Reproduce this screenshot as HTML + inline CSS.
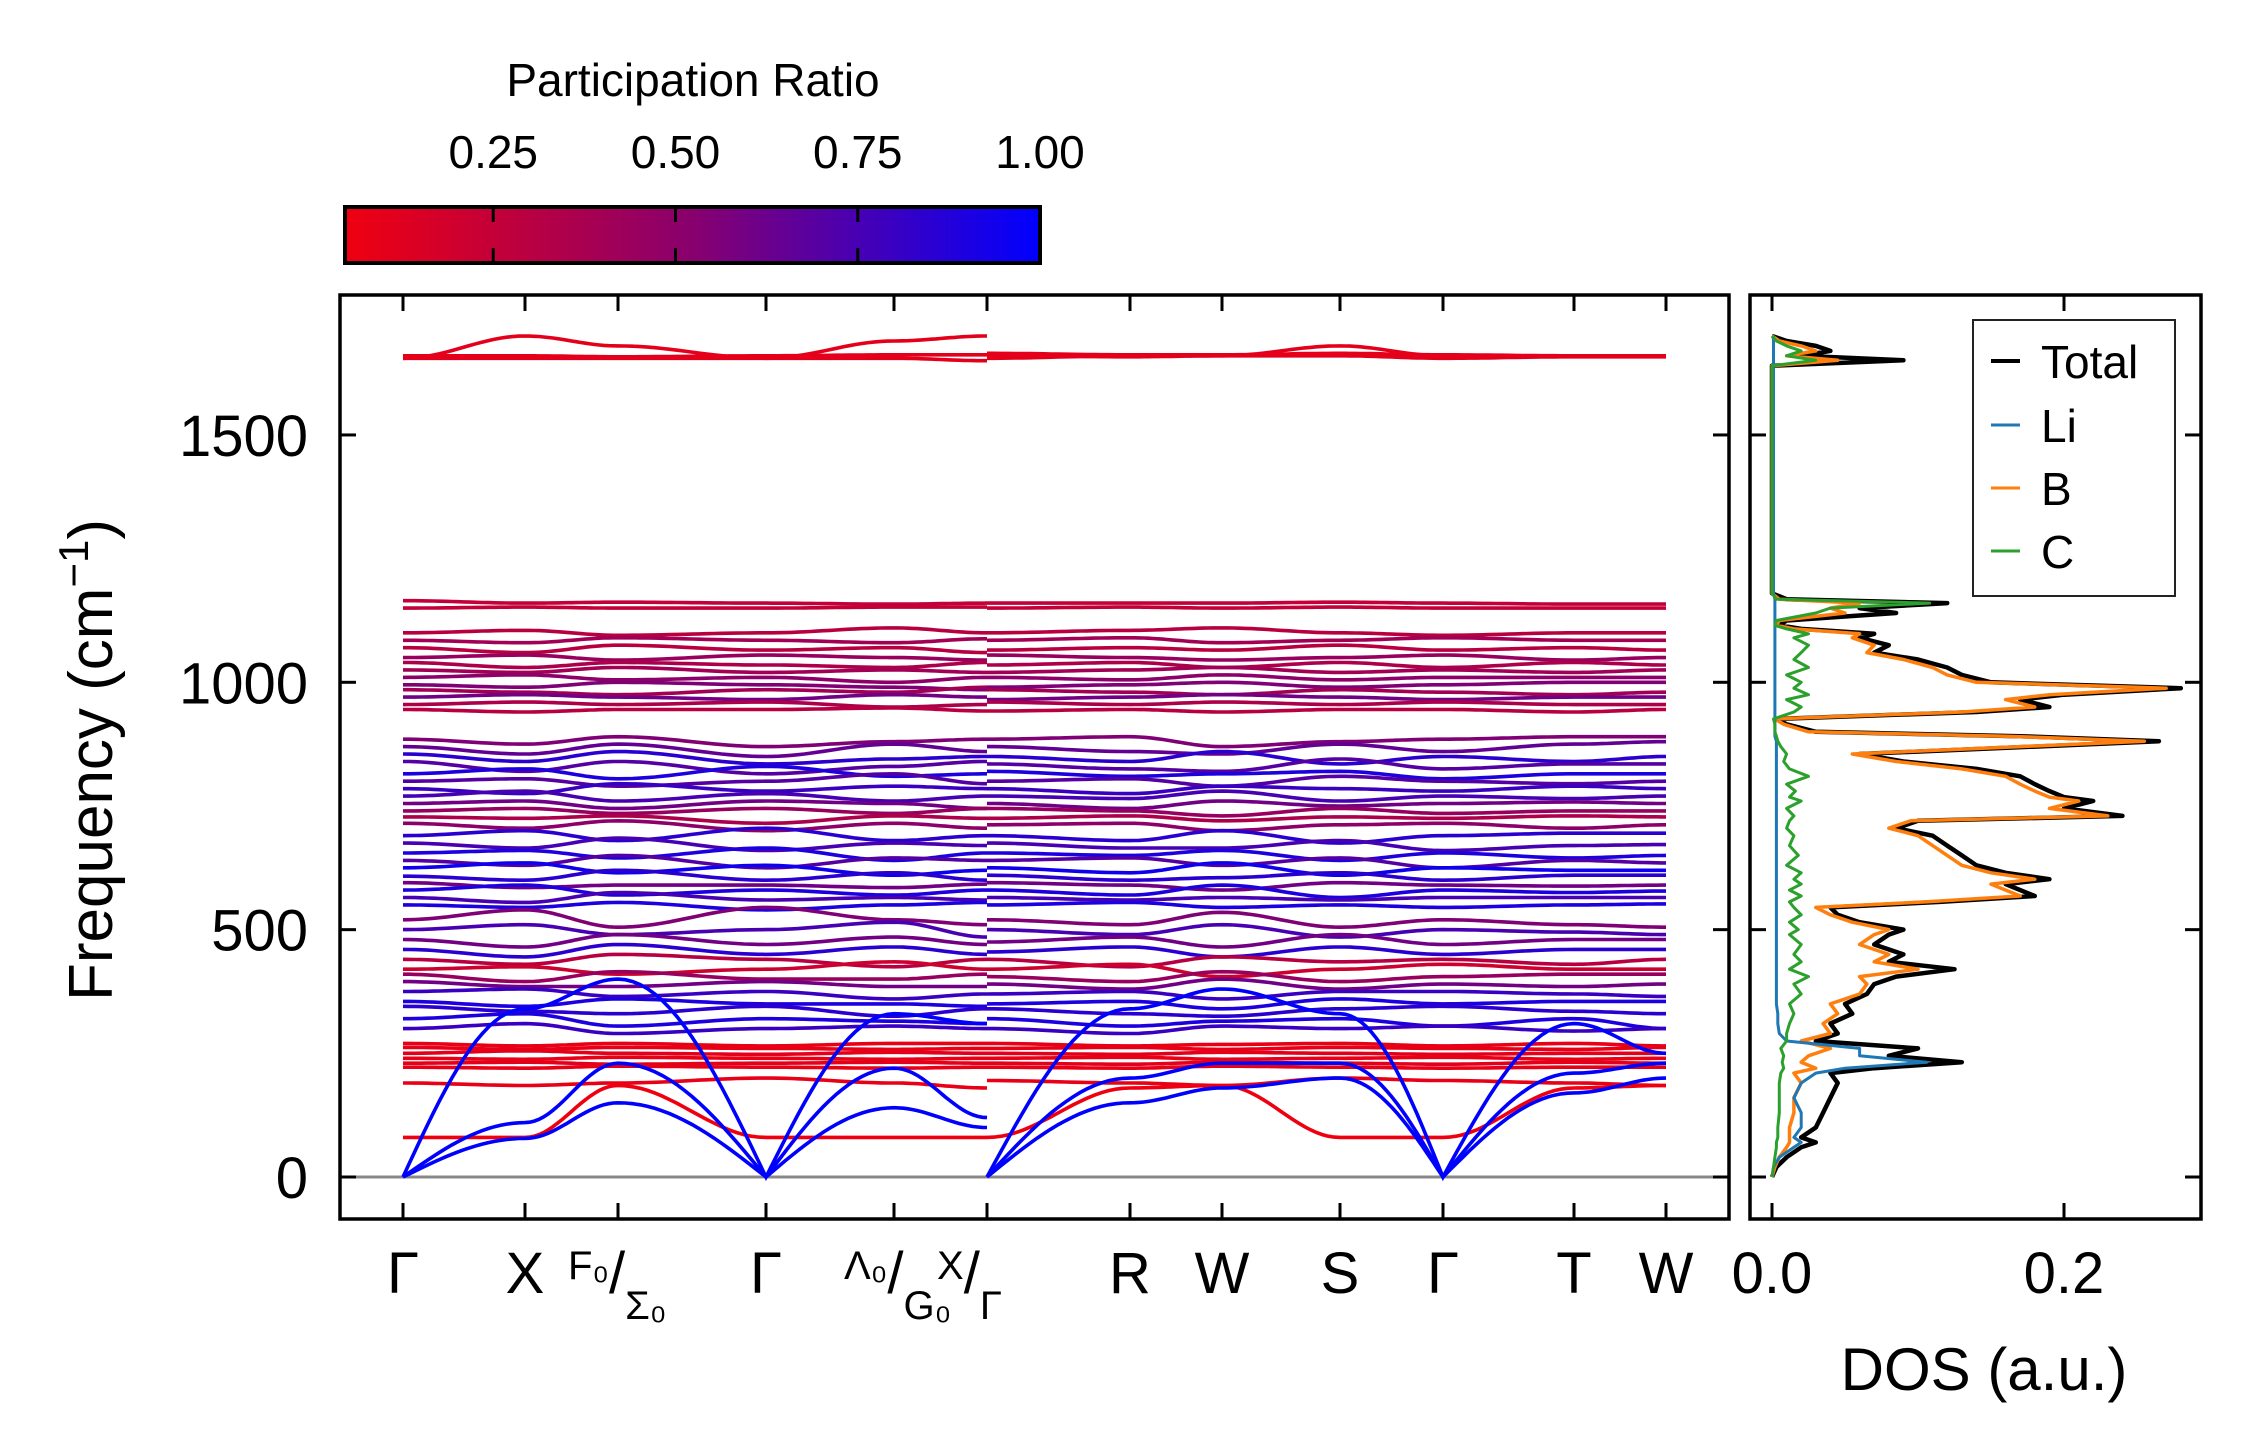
<!DOCTYPE html>
<html><head><meta charset="utf-8">
<style>
html,body{margin:0;padding:0;background:#fff;}
svg{display:block;font-family:"Liberation Sans","DejaVu Sans",sans-serif;}
</style></head>
<body>
<svg id="chart" width="2259" height="1455" viewBox="0 0 2259 1455" xmlns="http://www.w3.org/2000/svg">
<defs>
<linearGradient id="cbgrad" x1="0" x2="1" y1="0" y2="0">
<stop offset="0" stop-color="#f00010"/>
<stop offset="0.5" stop-color="#88006e"/>
<stop offset="1" stop-color="#0000ff"/>
</linearGradient>
<clipPath id="mainclip"><rect x="340" y="295" width="1389" height="924"/></clipPath>
<clipPath id="dosclip"><rect x="1750" y="295" width="451" height="924"/></clipPath>
</defs>
<g id="colorbar">
<text x="693" y="96" font-size="46" text-anchor="middle">Participation Ratio</text>
<rect x="345" y="207" width="695" height="56" fill="url(#cbgrad)" stroke="#000" stroke-width="4"/>
<g id="cbticks"></g>
</g>
<g id="main">
<line x1="340" x2="1729" y1="1177" y2="1177" stroke="#888" stroke-width="3"/>
<g id="bands" clip-path="url(#mainclip)"></g>
<rect x="340" y="295" width="1389" height="924" fill="none" stroke="#000" stroke-width="3.5"/>
<g id="mainticks"></g>
<text transform="translate(112,760) rotate(-90)" font-size="62" text-anchor="middle">Frequency (cm<tspan dy="-24" font-size="42">−1</tspan><tspan dy="24">)</tspan></text>
</g>
<g id="dos">
<g id="doslines" clip-path="url(#dosclip)"></g>
<rect x="1750" y="295" width="451" height="924" fill="none" stroke="#000" stroke-width="3.5"/>
<g id="dosticks"></g>
<text x="1984" y="1390" font-size="60" text-anchor="middle">DOS (a.u.)</text>
<g>
<rect x="1973" y="320" width="202" height="276" fill="#fff" stroke="#222" stroke-width="2"/>
<line x1="1991" x2="2020" y1="361" y2="361" stroke="#000" stroke-width="4"/>
<text x="2041" y="378" font-size="46">Total</text>
<line x1="1991" x2="2020" y1="425" y2="425" stroke="#1f77b4" stroke-width="3"/>
<text x="2041" y="442" font-size="46">Li</text>
<line x1="1991" x2="2020" y1="488" y2="488" stroke="#ff7f0e" stroke-width="3"/>
<text x="2041" y="505" font-size="46">B</text>
<line x1="1991" x2="2020" y1="551" y2="551" stroke="#2ca02c" stroke-width="3"/>
<text x="2041" y="568" font-size="46">C</text>
</g>
</g>
</svg>
<script>
const kDist = [0,122,215,363,491,584, 584,727,819,937,1040,1171,1263];
const kTickX = [0,122,215,363,491,584,727,819,937,1040,1171,1263];
const freqTicks = [0,500,1000,1500];
const cbTicks = [0.25,0.50,0.75,1.00];
const cbTickLabels = ["0.25","0.50","0.75","1.00"];
const dosTicks = [0.0,0.2];
const dosTickLabels = ["0.0","0.2"];

const bandFreqs = [
[1655,1700,1680,1655,1690,1700, 1655,1660,1660,1680,1660,1660,1660],
[1655,1655,1655,1655,1655,1650, 1660,1658,1660,1660,1655,1658,1658],
[1660,1660,1658,1660,1662,1662, 1665,1662,1662,1665,1662,1660,1660],
[1165,1160,1162,1160,1158,1160, 1160,1160,1160,1162,1160,1158,1158],
[1150,1152,1150,1150,1152,1152, 1150,1152,1150,1152,1150,1150,1150],
[1100,1105,1095,1100,1110,1100, 1100,1105,1110,1100,1095,1100,1100],
[1085,1080,1090,1085,1080,1088, 1085,1090,1080,1085,1090,1085,1085],
[1070,1060,1075,1065,1070,1060, 1065,1070,1065,1075,1065,1070,1065],
[1050,1055,1045,1055,1050,1045, 1055,1050,1045,1050,1055,1045,1050],
[1040,1030,1040,1035,1030,1040, 1035,1040,1030,1040,1030,1040,1035],
[1025,1020,1030,1020,1025,1020, 1020,1025,1030,1020,1025,1020,1025],
[1010,1015,1005,1010,1000,1010, 1010,1005,1015,1005,1010,1010,1010],
[995,990,1000,995,990,985, 990,995,1000,990,995,1000,1000],
[985,980,975,985,980,990, 985,980,975,985,980,975,980],
[970,975,970,965,975,970, 965,970,975,970,965,970,970],
[955,960,955,960,950,955, 960,955,960,955,960,955,955],
[945,940,945,945,948,942, 942,945,940,945,945,940,945],
[885,875,890,870,880,885, 885,890,870,880,885,890,890],
[870,855,875,850,875,860, 870,860,855,875,860,875,880],
[855,840,860,835,845,850, 850,840,860,835,850,840,850],
[840,820,840,815,830,840, 835,825,820,845,825,835,835],
[815,825,805,830,810,815, 820,810,815,820,805,815,815],
[800,805,790,800,815,795, 800,805,790,810,800,795,800],
[785,775,795,780,790,785, 785,775,790,785,780,790,785],
[770,780,760,775,760,770, 770,765,780,760,770,765,770],
[755,760,745,760,755,745, 755,745,760,750,755,758,755],
[740,745,735,745,735,745, 745,740,730,745,735,740,740],
[728,725,730,715,730,725, 725,730,720,728,725,730,728],
[715,705,720,700,715,705, 712,715,700,712,715,705,712],
[690,700,680,705,680,690, 690,680,700,675,690,695,695],
[675,665,685,660,675,670, 675,665,665,680,660,670,672],
[655,660,645,665,640,655, 655,650,660,640,655,645,650],
[640,630,650,625,645,640, 640,645,630,645,625,640,635],
[625,635,615,630,610,620, 625,615,635,610,625,620,620],
[608,600,620,600,615,600, 610,600,605,615,600,610,610],
[595,585,590,590,585,592, 595,590,580,595,590,588,590],
[580,590,570,580,570,580, 580,570,590,565,580,575,578],
[565,555,575,560,565,560, 565,560,565,560,565,565,565],
[550,545,555,540,550,555, 550,555,545,550,545,550,552],
[520,540,505,545,520,510, 520,510,535,505,520,510,505],
[500,510,490,500,515,485, 500,490,510,485,500,495,490],
[480,465,490,470,485,470, 475,485,465,490,470,480,480],
[460,445,470,450,465,450, 455,465,445,465,450,460,460],
[440,430,450,440,425,440, 440,425,445,435,440,430,440],
[420,425,410,420,435,420, 420,430,405,420,430,420,420],
[410,395,415,400,400,410, 405,395,415,395,405,410,410],
[395,385,385,395,385,385, 390,380,400,380,390,385,390],
[375,380,365,375,360,370, 370,375,360,375,375,370,365],
[355,345,360,350,350,345, 350,355,340,360,350,355,355],
[345,335,330,345,325,340, 340,330,325,340,345,335,330],
[320,330,305,320,315,310, 320,305,315,320,305,320,300],
[300,310,290,300,305,300, 300,290,305,300,305,295,300],
[270,265,270,265,270,270, 270,265,268,270,265,270,265],
[262,258,262,260,258,260, 260,262,258,262,260,258,262],
[250,255,250,248,252,250, 250,248,252,250,248,250,250],
[240,238,242,240,238,240, 240,242,238,240,242,238,240],
[230,232,228,230,232,230, 230,228,232,230,228,232,230],
[222,220,224,222,220,222, 222,220,224,222,220,222,222],
[190,185,190,200,190,180, 195,190,185,200,195,190,185],
[80,80,185,80,80,80, 80,180,185,80,80,180,185],
[0,78,150,0,140,100, 0,150,180,200,0,170,200],
[0,110,230,0,220,120, 0,200,230,230,0,210,230],
[0,340,400,0,330,310, 0,340,380,330,0,310,250]
];
const bandPR = [0.1,0.1,0.1,0.25,0.25,0.3,0.4,0.3,0.45,0.35,0.4,0.5,0.55,0.4,0.6,0.35,0.3,
0.55,0.65,0.85,0.7,0.9,0.7,0.8,0.75,0.6,0.45,0.35,0.5,
0.85,0.75,0.9,0.7,0.95,0.85,0.6,0.9,0.75,0.9,
0.55,0.75,0.6,0.85,0.3,0.2,0.45,0.6,0.8,0.9,0.85,0.9,0.8,
0.08,0.08,0.1,0.08,0.1,0.08,0.08,0.05,1.0,1.0,1.0];

const dosFreq = [0,20,40,60,70,80,100,130,160,190,
210,220,232,245,260,275,290,310,330,350,
370,390,405,420,435,450,470,490,500,515,
530,545,556,568,580,592,602,615,630,650,
670,690,705,720,730,745,760,768,780,794,
810,825,840,855,870,881,891,900,915,926,
940,950,965,975,988,1000,1015,1030,1046,1060,
1075,1090,1098,1108,1115,1125,1140,1150,1160,1168,
1180,1640,1651,1660,1670,1680,1690,1700];
const dosTotal = [0,0.003,0.01,0.02,0.03,0.02,0.03,0.035,0.04,0.045,
0.04,0.07,0.13,0.08,0.1,0.03,0.045,0.04,0.055,0.05,
0.065,0.07,0.085,0.125,0.08,0.09,0.07,0.08,0.09,0.06,
0.045,0.04,0.115,0.18,0.17,0.16,0.19,0.16,0.14,0.13,
0.12,0.11,0.085,0.1,0.24,0.2,0.22,0.2,0.19,0.18,
0.17,0.14,0.09,0.06,0.18,0.265,0.17,0.03,0.01,0.003,
0.14,0.19,0.17,0.2,0.28,0.15,0.13,0.12,0.1,0.07,
0.08,0.06,0.07,0.02,0.005,0.01,0.085,0.06,0.12,0.01,
0,0,0.09,0.02,0.04,0.03,0.01,0];
const dosB = [0,0.002,0.005,0.01,0.012,0.012,0.012,0.015,0.015,0.02,
0.015,0.03,0.02,0.025,0.04,0.02,0.04,0.035,0.045,0.04,
0.06,0.065,0.06,0.1,0.07,0.08,0.06,0.07,0.08,0.055,
0.04,0.03,0.105,0.17,0.16,0.15,0.18,0.15,0.13,0.12,
0.11,0.1,0.08,0.095,0.23,0.19,0.21,0.19,0.18,0.17,
0.16,0.13,0.085,0.055,0.17,0.255,0.16,0.025,0.008,0.002,
0.13,0.18,0.16,0.19,0.27,0.14,0.12,0.11,0.09,0.065,
0.07,0.055,0.06,0.015,0.003,0.005,0.05,0.04,0.06,0.005,
0,0,0.045,0.01,0.03,0.02,0.005,0];
const dosC = [0,0.001,0.002,0.003,0.003,0.004,0.004,0.005,0.005,0.005,
0.006,0.008,0.007,0.008,0.006,0.01,0.01,0.012,0.015,0.012,
0.02,0.015,0.025,0.012,0.02,0.015,0.02,0.012,0.018,0.012,
0.02,0.015,0.012,0.02,0.012,0.02,0.015,0.02,0.01,0.018,
0.012,0.015,0.01,0.012,0.015,0.01,0.02,0.012,0.016,0.01,
0.025,0.012,0.008,0.01,0.006,0.004,0.003,0.002,0.002,0.001,
0.015,0.02,0.01,0.025,0.015,0.02,0.01,0.025,0.015,0.02,
0.025,0.015,0.025,0.01,0.002,0.003,0.03,0.04,0.108,0.003,
0,0,0.03,0.01,0.02,0.01,0.003,0];
const dosLi = [0,0.001,0.005,0.015,0.02,0.015,0.02,0.02,0.015,0.02,
0.03,0.05,0.106,0.06,0.06,0.01,0.005,0.004,0.004,0.003,
0.003,0.003,0.003,0.003,0.003,0.003,0.003,0.003,0.003,0.003,
0.003,0.003,0.003,0.003,0.003,0.003,0.003,0.003,0.003,0.003,
0.003,0.003,0.003,0.003,0.003,0.003,0.003,0.003,0.003,0.003,
0.003,0.003,0.003,0.003,0.003,0.003,0.002,0.002,0.002,0.002,
0.002,0.002,0.002,0.002,0.002,0.002,0.002,0.002,0.002,0.002,
0.002,0.002,0.002,0.002,0.002,0.002,0.002,0.002,0.002,0.002,
0.001,0.001,0.001,0.001,0.001,0.001,0.001,0.001];

const NS = "http://www.w3.org/2000/svg";
const yF = f => 1177 - f * 0.4947;
const xK = d => 403 + d * (1666 - 403) / 1263;
const xD = v => 1772 + v * 1460;
const xCB = v => 311 + v * (1040 - 311);
function mk(tag, attrs, parent){
  const e = document.createElementNS(NS, tag);
  for (const k in attrs) e.setAttribute(k, attrs[k]);
  parent.appendChild(e);
  return e;
}
function prColor(p){
  const t = Math.max(0, Math.min(1, (p - 0.047) / (1 - 0.047)));
  let r,g,b;
  if (t < 0.5){ const u=t/0.5; r=240+(136-240)*u; g=0; b=16+(110-16)*u; }
  else { const u=(t-0.5)/0.5; r=136*(1-u); g=0; b=110+(255-110)*u; }
  return `rgb(${r|0},${g|0},${b|0})`;
}

const cbt = document.getElementById('cbticks');
cbTicks.forEach((v,i)=>{
  const x = xCB(v);
  if (v < 1){
    const t1 = mk('line',{x1:x,x2:x,y1:207,y2:222,stroke:'#000','stroke-width':3},cbt);
    
    
    const t2 = mk('line',{x1:x,x2:x,y1:248,y2:263,stroke:'#000','stroke-width':3},cbt);
    
    
  }
  const tx = mk('text',{x:x,y:168,'font-size':46,'text-anchor':'middle'},cbt);
  tx.textContent = cbTickLabels[i];
  
  
});

const bg = document.getElementById('bands');
function segPath(vals, ks){
  let d = '';
  for (let i=0;i<vals.length-1;i++){
    const x0=xK(ks[i]), x1=xK(ks[i+1]);
    const n = 20;
    for (let j=(i===0?0:1); j<=n; j++){
      const s=j/n;
      let e;
      if (vals[i]===0) e = Math.sin(Math.PI/2*s);
      else if (vals[i+1]===0) e = 1-Math.cos(Math.PI/2*s);
      else e=(1-Math.cos(Math.PI*s))/2;
      const f = vals[i] + (vals[i+1]-vals[i])*e;
      const x = x0 + (x1-x0)*s;
      d += (d===''?'M':'L') + x.toFixed(1) + ',' + yF(f).toFixed(1);
    }
  }
  return d;
}
bandFreqs.forEach((b,bi)=>{
  const col = prColor(bandPR[bi]);
  const p1 = mk('path',{d:segPath(b.slice(0,6),kDist.slice(0,6)),fill:'none',stroke:col,'stroke-width':3.6},bg);
  
  
  const p2 = mk('path',{d:segPath(b.slice(6),kDist.slice(6)),fill:'none',stroke:col,'stroke-width':3.6},bg);
  
  
});

const mt = document.getElementById('mainticks');
freqTicks.forEach(f=>{
  const y=yF(f);
  const a=mk('line',{x1:340,x2:356,y1:y,y2:y,stroke:'#000','stroke-width':3},mt);
  
  
  const b=mk('line',{x1:1713,x2:1729,y1:y,y2:y,stroke:'#000','stroke-width':3},mt);
  
  
  const c=mk('line',{x1:1750,x2:1766,y1:y,y2:y,stroke:'#000','stroke-width':3},mt);
  
  
  const d=mk('line',{x1:2185,x2:2201,y1:y,y2:y,stroke:'#000','stroke-width':3},mt);
  
  
  const t=mk('text',{x:308,y:y+21,'font-size':58,'text-anchor':'end'},mt);
  t.textContent=String(f);
  
  
});
kTickX.forEach(k=>{
  const x=xK(k);
  const a=mk('line',{x1:x,x2:x,y1:1203,y2:1219,stroke:'#000','stroke-width':3},mt);
  
  
  const b=mk('line',{x1:x,x2:x,y1:295,y2:311,stroke:'#000','stroke-width':3},mt);
  
  
});
function simpleLabel(x, txt){
  const t=mk('text',{x:x,y:1293,'font-size':58,'text-anchor':'middle'},mt);
  t.textContent=txt;
  
  
}
simpleLabel(xK(0),'Γ'); simpleLabel(xK(122),'X'); simpleLabel(xK(363),'Γ');
simpleLabel(xK(727),'R'); simpleLabel(xK(819),'W'); simpleLabel(xK(937),'S');
simpleLabel(xK(1040),'Γ'); simpleLabel(xK(1171),'T'); simpleLabel(xK(1263),'W');
function fracLabel(x, top, bot){
  const g=mk('text',{x:x-50,y:1293,'font-size':40},mt);
  
  
  g.innerHTML = `<tspan dy="-14">${top}</tspan><tspan font-size="58" dy="14">/</tspan><tspan dy="26">${bot}</tspan>`;
}
fracLabel(xK(215),'F₀','Σ₀');
fracLabel(xK(491),'Λ₀','G₀');
fracLabel(xK(584),'X','Γ');

const dl = document.getElementById('doslines');
function dosPath(arr){
  return arr.map((v,i)=>(i?'L':'M')+xD(v).toFixed(1)+','+yF(dosFreq[i]).toFixed(1)).join('');
}
const series = [[dosTotal,'#000',4.5,'dos-total-line'],[dosB,'#ff7f0e',3.5,'dos-b-line'],[dosLi,'#1f77b4',3,'dos-li-line'],[dosC,'#2ca02c',3,'dos-c-line']];
series.forEach(s=>{
  const p=mk('path',{d:dosPath(s[0]),fill:'none',stroke:s[1],'stroke-width':s[2],'stroke-linejoin':'round'},dl);
  
  
});
const dt = document.getElementById('dosticks');
dosTicks.forEach((v,i)=>{
  const x=xD(v);
  const a=mk('line',{x1:x,x2:x,y1:1203,y2:1219,stroke:'#000','stroke-width':3},dt);
  
  
  const b=mk('line',{x1:x,x2:x,y1:295,y2:311,stroke:'#000','stroke-width':3},dt);
  
  
  const t=mk('text',{x:x,y:1293,'font-size':58,'text-anchor':'middle'},dt);
  t.textContent=dosTickLabels[i];
  
  
});
</script>
</body></html>
